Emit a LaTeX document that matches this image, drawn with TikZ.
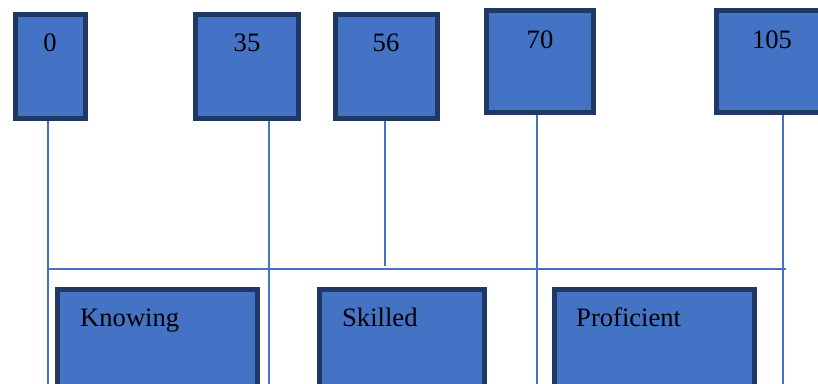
\documentclass[tikz,border=0pt]{standalone}
\usepackage{fontspec}
\setmainfont{Liberation Serif}
\definecolor{boxfill}{HTML}{4472C4}
\definecolor{boxline}{HTML}{203864}
\definecolor{conn}{HTML}{4472C4}
\tikzset{
  blk/.style={rectangle, draw=boxline, fill=boxfill, line width=5pt, inner sep=0pt},
  lbl/.style={anchor=base, inner sep=0pt, font=\fontsize{26.6}{30}\selectfont, text=black},
  lbll/.style={lbl, anchor=base west},
  conline/.style={draw=conn, line width=1.6pt}
}
\begin{document}
\begin{tikzpicture}[x=1pt,y=-1pt]
\clip (0,0) rectangle (818,383);
\fill[white] (0,0) rectangle (818,383);
% coordinates
\coordinate (e0) at (48,384);
\coordinate (e35) at (269,384);
\coordinate (e56) at (385,266);
\coordinate (e70) at (537,384);
\coordinate (e105) at (783,384);
\coordinate (hl) at (48,269);
\coordinate (hr) at (786,269);
% top boxes
\node[blk, minimum width=70pt, minimum height=104pt] (b0) at (50.5,66.5) {};
\node[blk, minimum width=103pt, minimum height=104pt] (b35) at (247,66.5) {};
\node[blk, minimum width=102pt, minimum height=104pt] (b56) at (386.5,66.5) {};
\node[blk, minimum width=107pt, minimum height=102pt] (b70) at (540,61.5) {};
\node[blk, minimum width=107pt, minimum height=102pt] (b105) at (769.5,61.5) {};
% connectors
\draw[conline] (b0.south -| e0) -- (e0);
\draw[conline] (b35.south -| e35) -- (e35);
\draw[conline] (b56.south -| e56) -- (e56);
\draw[conline] (b70.south -| e70) -- (e70);
\draw[conline] (b105.south -| e105) -- (e105);
\draw[conline] (hl) -- (hr);
% bottom boxes
\node[blk, minimum width=200pt, minimum height=100pt] (kn) at (157.5,339.5) {};
\node[blk, minimum width=165pt, minimum height=100pt] (sk) at (402,339.5) {};
\node[blk, minimum width=200pt, minimum height=100pt] (pr) at (654.5,339.5) {};
% labels
\node[lbl] (t0) at (50,51) {0};
\node[lbl] (t35) at (247,51) {35};
\node[lbl] (t56) at (386,51) {56};
\node[lbl] (t70) at (540,48) {70};
\node[lbl] (t105) at (772,48) {105};
\node[lbll] (tkn) at (80,326) {Knowing};
\node[lbll] (tsk) at (342,326) {Skilled};
\node[lbll] (tpr) at (576,326) {Proficient};
\end{tikzpicture}
\end{document}
